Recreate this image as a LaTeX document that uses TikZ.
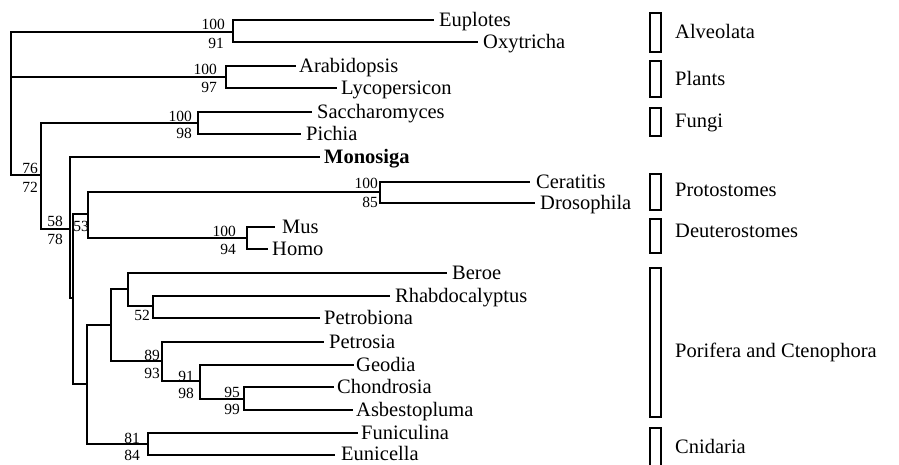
\documentclass[tikz,border=0pt]{standalone}
\usepackage{fontspec}
\setmainfont{Liberation Serif}
\begin{document}
\begin{tikzpicture}[x=1pt,y=-1pt,
  br/.style={line width=2.5pt, line join=miter},
  taxon/.style={anchor=base west, inner sep=0pt, font=\fontsize{20.5}{24}\selectfont},
  bs/.style={anchor=base east, inner sep=0pt, font=\fontsize{15.5}{18}\selectfont},
  grp/.style={draw, line width=2.3pt, minimum width=11pt, inner sep=0pt},
  grplab/.style={anchor=base west, inner sep=0pt, font=\fontsize{20.5}{24}\selectfont}]
\useasboundingbox (0,0) rectangle (899,464);
% internal nodes
\coordinate (r) at (11,100);
\coordinate (alv) at (233,32);
\coordinate (pl) at (226,77);
\coordinate (X) at (41,175);
\coordinate (fu) at (198,123);
\coordinate (A) at (70,229);
\coordinate (B) at (73,298);
\coordinate (bil) at (88,214);
\coordinate (pro) at (380,192);
\coordinate (deu) at (247,238);
\coordinate (pc) at (87,384);
\coordinate (pct) at (111,325);
\coordinate (n1) at (128,289);
\coordinate (n3) at (153,306);
\coordinate (n2) at (162,361);
\coordinate (n4) at (200,381);
\coordinate (n5) at (244,399);
\coordinate (cn) at (148,444);
% tips
\coordinate (tEup) at (434,20);
\coordinate (tOxy) at (478,42);
\coordinate (tAra) at (296,66);
\coordinate (tLyc) at (337,88);
\coordinate (tSac) at (312,112);
\coordinate (tPic) at (301,134);
\coordinate (tMon) at (320,157);
\coordinate (tCer) at (530,182);
\coordinate (tDro) at (535,203);
\coordinate (tMus) at (275,227);
\coordinate (tHom) at (268,249);
\coordinate (tBer) at (447,273);
\coordinate (tRha) at (390,296);
\coordinate (tPeb) at (320,318);
\coordinate (tPes) at (324,342);
\coordinate (tGeo) at (354,365);
\coordinate (tCho) at (334,387);
\coordinate (tAsb) at (353,410);
\coordinate (tFun) at (358,433);
\coordinate (tEun) at (335,455);
% branches
\draw[br] (r) |- (alv);
\draw[br] (r) |- (pl);
\draw[br] (r) |- (X);
\draw[br] (alv) |- (tEup);
\draw[br] (alv) |- (tOxy);
\draw[br] (pl) |- (tAra);
\draw[br] (pl) |- (tLyc);
\draw[br] (X) |- (fu);
\draw[br] (X) |- (A);
\draw[br] (fu) |- (tSac);
\draw[br] (fu) |- (tPic);
\draw[br] (A) |- (tMon);
\draw[br] (A) |- (B);
\draw[br] (B) |- (bil);
\draw[br] (B) |- (pc);
\draw[br] (bil) |- (pro);
\draw[br] (bil) |- (deu);
\draw[br] (pro) |- (tCer);
\draw[br] (pro) |- (tDro);
\draw[br] (deu) |- (tMus);
\draw[br] (deu) |- (tHom);
\draw[br] (pc) |- (pct);
\draw[br] (pc) |- (cn);
\draw[br] (pct) |- (n1);
\draw[br] (pct) |- (n2);
\draw[br] (n1) |- (tBer);
\draw[br] (n1) |- (n3);
\draw[br] (n3) |- (tRha);
\draw[br] (n3) |- (tPeb);
\draw[br] (n2) |- (tPes);
\draw[br] (n2) |- (n4);
\draw[br] (n4) |- (tGeo);
\draw[br] (n4) |- (n5);
\draw[br] (n5) |- (tCho);
\draw[br] (n5) |- (tAsb);
\draw[br] (cn) |- (tFun);
\draw[br] (cn) |- (tEun);
% taxon labels
\node[taxon] (lEup) at ([shift={(5,6)}]tEup) {Euplotes};
\node[taxon] (lOxy) at ([shift={(5,6)}]tOxy) {Oxytricha};
\node[taxon] (lAra) at ([shift={(3,6)}]tAra) {Arabidopsis};
\node[taxon] (lLyc) at ([shift={(4,6)}]tLyc) {Lycopersicon};
\node[taxon] (lSac) at ([shift={(5,6)}]tSac) {Saccharomyces};
\node[taxon] (lPic) at ([shift={(5,6)}]tPic) {Pichia};
\node[taxon] (lMon) at ([shift={(4,6)}]tMon) {\bfseries Monosiga};
\node[taxon] (lCer) at ([shift={(6,6)}]tCer) {Ceratitis};
\node[taxon] (lDro) at ([shift={(5,6)}]tDro) {Drosophila};
\node[taxon] (lMus) at ([shift={(7,6)}]tMus) {Mus};
\node[taxon] (lHom) at ([shift={(4,6)}]tHom) {Homo};
\node[taxon] (lBer) at ([shift={(5,6)}]tBer) {Beroe};
\node[taxon] (lRha) at ([shift={(5,6)}]tRha) {Rhabdocalyptus};
\node[taxon] (lPeb) at ([shift={(4,6)}]tPeb) {Petrobiona};
\node[taxon] (lPes) at ([shift={(5,6)}]tPes) {Petrosia};
\node[taxon] (lGeo) at ([shift={(2,6)}]tGeo) {Geodia};
\node[taxon] (lCho) at ([shift={(3,6)}]tCho) {Chondrosia};
\node[taxon] (lAsb) at ([shift={(3,6)}]tAsb) {Asbestopluma};
\node[taxon] (lFun) at ([shift={(3,6)}]tFun) {Funiculina};
\node[taxon] (lEun) at ([shift={(6,5.5)}]tEun) {Eunicella};
% support values
\node[bs] (s1a) at (225,29) {100}; \node[bs] (s1b) at (224,48) {91};
\node[bs] (s2a) at (217,74) {100}; \node[bs] (s2b) at (217,92) {97};
\node[bs] (s3a) at (192,121) {100}; \node[bs] (s3b) at (192,138) {98};
\node[bs] (s4a) at (38,173) {76}; \node[bs] (s4b) at (38,192) {72};
\node[bs] (s5a) at (63,226) {58}; \node[bs] (s5b) at (63,244) {78};
\node[bs] (s6) at (89,231) {53};
\node[bs] (s7a) at (236,236) {100}; \node[bs] (s7b) at (236,254) {94};
\node[bs] (s8a) at (378,188) {100}; \node[bs] (s8b) at (378,207) {85};
\node[bs] (s9) at (150,320) {52};
\node[bs] (s10a) at (160,360) {89}; \node[bs] (s10b) at (160,378) {93};
\node[bs] (s11a) at (194,381) {91}; \node[bs] (s11b) at (194,398) {98};
\node[bs] (s12a) at (240,397) {95}; \node[bs] (s12b) at (240,414) {99};
\node[bs] (s13a) at (140,443) {81}; \node[bs] (s13b) at (140,460) {84};
% group boxes
\node[grp, minimum height=39pt] (gAlv) at (655.8,32.5) {};
\node[grp, minimum height=36pt] (gPl) at (655.8,79) {};
\node[grp, minimum height=28pt] (gFu) at (655.8,122) {};
\node[grp, minimum height=36pt] (gPro) at (655.8,192) {};
\node[grp, minimum height=34pt] (gDeu) at (655.8,236) {};
\node[grp, minimum height=149pt] (gPor) at (655.8,342.5) {};
\node[grp, minimum height=43pt] (gCn) at (655.8,449.5) {};
\node[grplab] (nAlv) at (675,38) {Alveolata};
\node[grplab] (nPl) at (675,85) {Plants};
\node[grplab] (nFu) at (675,127) {Fungi};
\node[grplab] (nPro) at (675,196) {Protostomes};
\node[grplab] (nDeu) at (675,237) {Deuterostomes};
\node[grplab] (nPor) at (675,357) {Porifera and Ctenophora};
\node[grplab] (nCn) at (675,453) {Cnidaria};
\end{tikzpicture}
\end{document}
